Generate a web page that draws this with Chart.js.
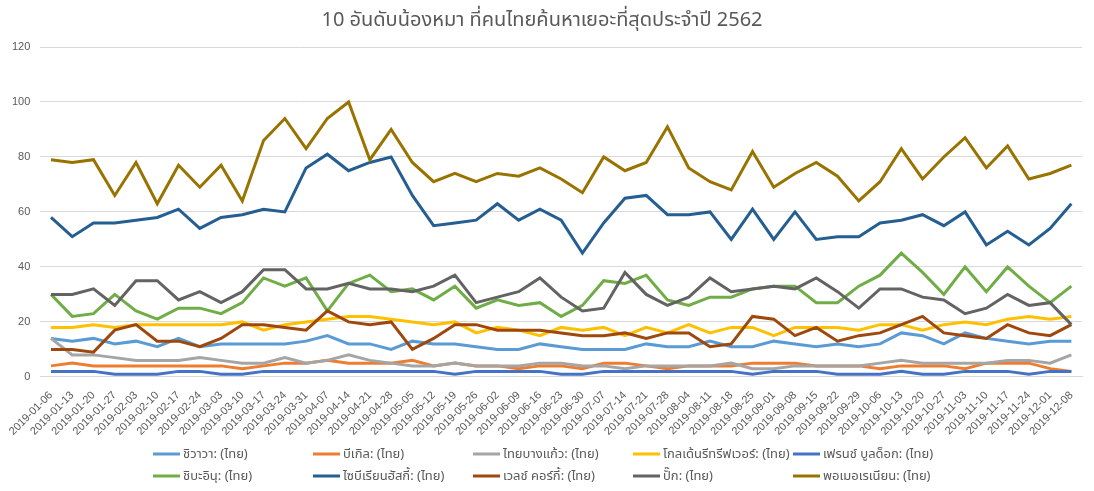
<!DOCTYPE html>
<html lang="th">
<head>
<meta charset="utf-8">
<title>10 อันดับน้องหมา ที่คนไทยค้นหาเยอะที่สุดประจำปี 2562</title>
<script src="https://cdn.jsdelivr.net/npm/chart.js@4.4.1/dist/chart.umd.min.js"></script>
<style>
  html, body { margin: 0; padding: 0; background: #ffffff; }
</style>
</head>
<body>
<canvas id="dogChart" width="1094" height="491"></canvas>
<script>
// weekly Google Trends interest, TH, 2019
const weeks = [
  '2019-01-06', '2019-01-13', '2019-01-20', '2019-01-27', '2019-02-03', '2019-02-10', '2019-02-17',
  '2019-02-24', '2019-03-03', '2019-03-10', '2019-03-17', '2019-03-24', '2019-03-31', '2019-04-07',
  '2019-04-14', '2019-04-21', '2019-04-28', '2019-05-05', '2019-05-12', '2019-05-19', '2019-05-26',
  '2019-06-02', '2019-06-09', '2019-06-16', '2019-06-23', '2019-06-30', '2019-07-07', '2019-07-14',
  '2019-07-21', '2019-07-28', '2019-08-04', '2019-08-11', '2019-08-18', '2019-08-25', '2019-09-01',
  '2019-09-08', '2019-09-15', '2019-09-22', '2019-09-29', '2019-10-06', '2019-10-13', '2019-10-20',
  '2019-10-27', '2019-11-03', '2019-11-10', '2019-11-17', '2019-11-24', '2019-12-01', '2019-12-08'
];

const chihuahua = [14, 13, 14, 12, 13, 11, 14, 11, 12, 12, 12, 12, 13, 15, 12, 12, 10, 13, 12, 12, 11, 10, 10, 12, 11,
  10, 10, 10, 12, 11, 11, 13, 11, 11, 13, 12, 11, 12, 11, 12, 16, 15, 12, 16, 14, 13, 12, 13, 13];
const beagle = [4, 5, 4, 4, 4, 4, 4, 4, 4, 3, 4, 5, 5, 6, 5, 5, 5, 6, 4, 5, 4, 4, 3, 4, 4,
  3, 5, 5, 4, 3, 4, 4, 4, 5, 5, 5, 4, 4, 4, 3, 4, 4, 4, 3, 5, 5, 5, 3, 2];
const thaiBangkaew = [14, 8, 8, 7, 6, 6, 6, 7, 6, 5, 5, 7, 5, 6, 8, 6, 5, 4, 4, 5, 4, 4, 4, 5, 5,
  4, 4, 3, 4, 4, 4, 4, 5, 3, 3, 4, 4, 4, 4, 5, 6, 5, 5, 5, 5, 6, 6, 5, 8];
const golden = [18, 18, 19, 18, 19, 19, 19, 19, 19, 20, 17, 19, 20, 21, 22, 22, 21, 20, 19, 20, 16, 18, 17, 15, 18,
  17, 18, 15, 18, 16, 19, 16, 18, 18, 15, 18, 18, 18, 17, 19, 19, 17, 19, 20, 19, 21, 22, 21, 22];
const frenchBulldog = [2, 2, 2, 1, 1, 1, 2, 2, 1, 1, 2, 2, 2, 2, 2, 2, 2, 2, 2, 1, 2, 2, 2, 2, 1,
  1, 2, 2, 2, 2, 2, 2, 2, 1, 2, 2, 2, 1, 1, 1, 2, 1, 1, 2, 2, 2, 1, 2, 2];
const shiba = [30, 22, 23, 30, 24, 21, 25, 25, 23, 27, 36, 33, 36, 24, 34, 37, 31, 32, 28, 33, 25, 28, 26, 27, 22,
  26, 35, 34, 37, 28, 26, 29, 29, 32, 33, 33, 27, 27, 33, 37, 45, 38, 30, 40, 31, 40, 33, 27, 33];
const husky = [58, 51, 56, 56, 57, 58, 61, 54, 58, 59, 61, 60, 76, 81, 75, 78, 80, 66, 55, 56, 57, 63, 57, 61, 57,
  45, 56, 65, 66, 59, 59, 60, 50, 61, 50, 60, 50, 51, 51, 56, 57, 59, 55, 60, 48, 53, 48, 54, 63];
const corgi = [10, 10, 9, 17, 19, 13, 13, 11, 14, 19, 19, 18, 17, 24, 20, 19, 20, 10, 14, 19, 19, 17, 17, 17, 16,
  15, 15, 16, 14, 16, 16, 11, 12, 22, 21, 15, 18, 13, 15, 16, 19, 22, 16, 15, 14, 19, 16, 15, 19];
const pug = [30, 30, 32, 26, 35, 35, 28, 31, 27, 31, 39, 39, 32, 32, 34, 32, 32, 31, 33, 37, 27, 29, 31, 36, 29,
  24, 25, 38, 30, 26, 29, 36, 31, 32, 33, 32, 36, 31, 25, 32, 32, 29, 28, 23, 25, 30, 26, 27, 19];
const pomeranian = [79, 78, 79, 66, 78, 63, 77, 69, 77, 64, 86, 94, 83, 94, 100, 79, 90, 78, 71, 74, 71, 74, 73, 76, 72,
  67, 80, 75, 78, 91, 76, 71, 68, 82, 69, 74, 78, 73, 64, 71, 83, 72, 80, 87, 76, 84, 72, 74, 77];

const breedNames = [
  'ชิวาวา: (ไทย)', 'บีเกิล: (ไทย)', 'ไทยบางแก้ว: (ไทย)', 'โกลเด้นรีทรีฟเวอร์: (ไทย)', 'เฟรนช์ บูลด็อก: (ไทย)',
  'ชิบะอินุ: (ไทย)', 'ไซบีเรียนฮัสกี้: (ไทย)', 'เวลช์ คอร์กี้: (ไทย)', 'ปั๊ก: (ไทย)', 'พอเมอเรเนียน: (ไทย)'
];
const breedValues = [chihuahua, beagle, thaiBangkaew, golden, frenchBulldog, shiba, husky, corgi, pug, pomeranian];
const breedColors = ['#5B9BD5', '#ED7D31', '#A5A5A5', '#FFC000', '#4472C4',
  '#70AD47', '#255E91', '#9E480E', '#636363', '#997300'];

const yTicks = [0, 20, 40, 60, 80, 100, 120];

const textColor = '#595959';
const fontFamily = '"Noto Sans Thai", Tahoma, "Liberation Sans", "Noto Sans", sans-serif';

// excel style legend: fixed 5 x 2 grid under the axis labels
const gridLegend = {
  id: 'gridLegend',
  afterDraw(chart, args, opts) {
    const ctx = chart.ctx;
    ctx.save();
    ctx.font = opts.fontSize + 'px ' + fontFamily;
    ctx.textBaseline = 'middle';
    ctx.textAlign = 'left';
    chart.data.datasets.forEach((ds, i) => {
      const x = opts.left + (i % opts.columns) * opts.columnWidth;
      const y = opts.top + Math.floor(i / opts.columns) * opts.rowHeight;
      ctx.strokeStyle = ds.borderColor;
      ctx.lineWidth = 3;
      ctx.beginPath();
      ctx.moveTo(x, y);
      ctx.lineTo(x + opts.lineLength, y);
      ctx.stroke();
      ctx.fillStyle = textColor;
      ctx.fillText(ds.label, x + opts.lineLength + 3, y + 1);
    });
    ctx.restore();
  }
};

window.onload = function () {
    const ctx = document.getElementById('dogChart').getContext('2d');

    const datasets = breedNames.map((name, i) => ({
        label: name,
        data: breedValues[i],
        borderColor: breedColors[i],
        backgroundColor: breedColors[i],
        borderWidth: 3,
        pointRadius: 0,
        pointHoverRadius: 0,
        tension: 0,
        fill: false,
        order: breedNames.length - i // later series on top, like the original
    }));

    new Chart(ctx, {
        type: 'line',
        data: { labels: weeks, datasets: datasets },
        plugins: [gridLegend],
        options: {
            responsive: false,
            animation: false,
            layout: { padding: { left: 2, right: 12, top: 0, bottom: 49 } },
            plugins: {
                legend: { display: false },
                tooltip: { enabled: false },
                title: {
                    display: true,
                    text: '10 อันดับน้องหมา ที่คนไทยค้นหาเยอะที่สุดประจำปี 2562',
                    color: textColor,
                    font: { family: fontFamily, size: 20, weight: 'normal' },
                    padding: { top: 10, bottom: 13 }
                },
                gridLegend: {
                    left: 153, top: 454, columns: 5, columnWidth: 160, rowHeight: 22,
                    lineLength: 27, fontSize: 13
                }
            },
            scales: {
                x: {
                    offset: true,
                    grid: { display: false },
                    border: { color: '#D9D9D9' },
                    ticks: {
                        autoSkip: false,
                        minRotation: 45,
                        maxRotation: 45,
                        padding: 4,
                        color: textColor,
                        font: { family: '"Liberation Sans", Arial, sans-serif', size: 11 }
                    }
                },
                y: {
                    min: 0,
                    max: 120,
                    afterBuildTicks: axis => { axis.ticks = yTicks.map(v => ({ value: v })); },
                    grid: { color: '#D9D9D9', drawTicks: false },
                    border: { display: false },
                    ticks: {
                        padding: 10,
                        color: textColor,
                        font: { family: '"Liberation Sans", Arial, sans-serif', size: 11 }
                    }
                }
            }
        }
    });
};
</script>
</body>
</html>
